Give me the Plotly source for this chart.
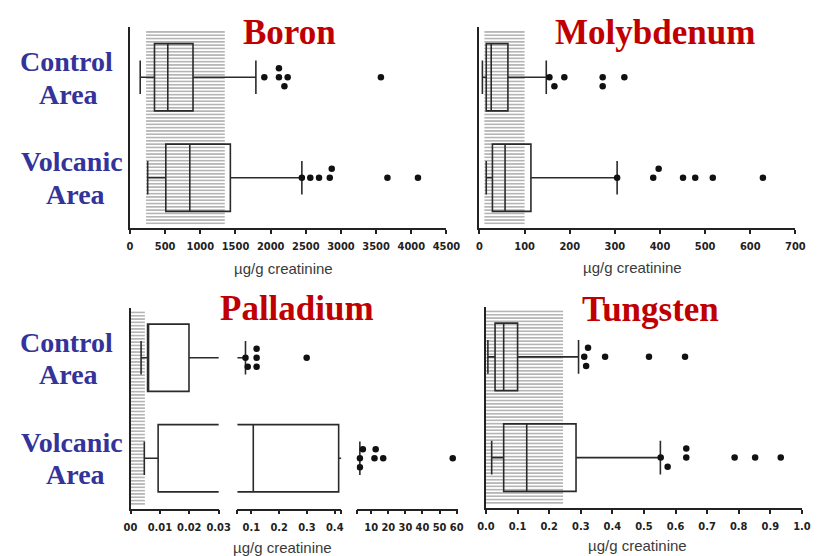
import plotly.graph_objects as go

# ---------------- data ----------------
groups = ["Control", "Volcanic"]

boron_ref = [228, 1348]
boron_ctrl_stats = [145, 348, 537, 896, 1790]      # lowerfence, q1, median, q3, upperfence
boron_volc_stats = [251, 509, 850, 1427, 2444]
boron_ctrl_out = [1910, 2118, 2118, 2196, 2242, 3568]
boron_ctrl_lane = [0, 0, 1, -1, 0, 0]
boron_volc_out = [2444, 2564, 2688, 2841, 2869, 3661, 4095]
boron_volc_lane = [0, 0, 0, 0, 1, 0, 0]

moly_ref = [10.8, 100]
moly_ctrl_stats = [6.5, 15, 26, 63, 148]
moly_volc_stats = [15, 28.7, 56.7, 114, 305]
moly_ctrl_out = [155, 166, 188, 273, 273, 321]
moly_ctrl_lane = [0, -1, 0, 0, -1, 0]
moly_volc_out = [305, 385, 397, 451, 478, 517, 628]
moly_volc_lane = [0, 0, 1, 0, 0, 0, 0]

pall_ref = [0, 0.0049]
pall_ctrl_stats = [0.0036, 0.0058, 0.0061, 0.0199, 0.079]
pall_volc_stats = [0.0047, 0.0094, 0.107, 0.414, 3.35]
pall_ctrl_out = [0.079, 0.087, 0.119, 0.119, 0.119, 0.299]
pall_ctrl_lane = [0, -1, 1, 0, -1, 0]
pall_volc_out = [3.35, 3.35, 5.1, 11.9, 12.6, 17.0, 57.7]
pall_volc_lane = [0, -1, 1, 0, 1, 0, 0]

tung_ref = [0, 0.244]
tung_ctrl_stats = [0.006, 0.0287, 0.056, 0.100, 0.293]
tung_volc_stats = [0.018, 0.056, 0.129, 0.285, 0.552]
tung_ctrl_out = [0.311, 0.317, 0.323, 0.377, 0.516, 0.630]
tung_ctrl_lane = [0, -1, 1, 0, 0, 0]
tung_volc_out = [0.553, 0.575, 0.634, 0.634, 0.787, 0.852, 0.933]
tung_volc_lane = [0, -1, 1, 0, 0, 0, 0]

boron_ticks = [0, 500, 1000, 1500, 2000, 2500, 3000, 3500, 4000, 4500]
moly_ticks = [0, 100, 200, 300, 400, 500, 600, 700]
tung_ticks = [0.0, 0.1, 0.2, 0.3, 0.4, 0.5, 0.6, 0.7, 0.8, 0.9, 1.0]
pall_seg1_ticks = [0, 0.01, 0.02, 0.03]
pall_seg1_text = ["00", "0.01", "0.02", "0.03"]
pall_seg2_ticks = [0.1, 0.2, 0.3, 0.4]
pall_seg3_ticks = [10, 20, 30, 40, 50, 60]

titles = ["Boron", "Molybdenum", "Palladium", "Tungsten"]
unit = "µg/g creatinine"

# ---------------- layout helpers ----------------
W, H = 823, 556
def px(x):
    return x / W
def py(y):
    return 1 - y / H

RED = "#C00000"
NAVY = "#33339A"
INK = "#222222"
LANE = 0.09
POS = {"Control": 1, "Volcanic": 0}
TICKFONT = dict(family="Liberation Sans Narrow, Arial Narrow, DejaVu Sans Condensed, Arial, sans-serif",
                size=11, color=INK, weight="bold")

fig = go.Figure()

def add_ref(lo_hi, xa, ya):
    fig.add_trace(go.Bar(
        y=[0.5], x=[lo_hi[1] - lo_hi[0]], base=[lo_hi[0]], width=[1.93], orientation="h",
        marker=dict(color="white", line=dict(width=0),
                    pattern=dict(shape="-", fgcolor="#5a5a5a", bgcolor="white", size=3.3, solidity=0.45)),
        xaxis=xa, yaxis=ya, showlegend=False, hoverinfo="skip"))

def add_box(stats, group, xa, ya):
    lf, q1, med, q3, uf = stats
    fig.add_trace(go.Box(
        y=[POS[group]], q1=[q1], median=[med], q3=[q3], lowerfence=[lf], upperfence=[uf],
        orientation="h", width=0.67, whiskerwidth=0.5, boxpoints=False,
        fillcolor="rgba(0,0,0,0)", line=dict(color="#2a2a2a", width=1.6),
        xaxis=xa, yaxis=ya, showlegend=False, hoverinfo="skip"))

def add_out(vals, lanes, group, xa, ya, rng=None):
    xs, ys = [], []
    for v, l in zip(vals, lanes):
        if rng is None or (rng[0] <= v <= rng[1]):
            xs.append(v)
            ys.append(POS[group] + l * LANE)
    if xs:
        fig.add_trace(go.Scatter(x=xs, y=ys, mode="markers",
                                 marker=dict(size=6.5, color="#111111"),
                                 xaxis=xa, yaxis=ya, showlegend=False, hoverinfo="skip"))

# Boron
add_ref(boron_ref, "x", "y")
add_box(boron_ctrl_stats, "Control", "x", "y")
add_box(boron_volc_stats, "Volcanic", "x", "y")
add_out(boron_ctrl_out, boron_ctrl_lane, "Control", "x", "y")
add_out(boron_volc_out, boron_volc_lane, "Volcanic", "x", "y")
# Molybdenum
add_ref(moly_ref, "x2", "y2")
add_box(moly_ctrl_stats, "Control", "x2", "y2")
add_box(moly_volc_stats, "Volcanic", "x2", "y2")
add_out(moly_ctrl_out, moly_ctrl_lane, "Control", "x2", "y2")
add_out(moly_volc_out, moly_volc_lane, "Volcanic", "x2", "y2")
# Palladium (broken axis, 3 segments)
seg_ranges = {"x3": [0, 0.03], "x4": [0.05, 0.423], "x5": [1.5, 61]}
add_ref(pall_ref, "x3", "y3")
for xa, rng in seg_ranges.items():
    for stats, grp in ((pall_ctrl_stats, "Control"), (pall_volc_stats, "Volcanic")):
        if stats[0] <= rng[1] and stats[4] >= rng[0]:
            add_box(stats, grp, xa, "y3")
    add_out(pall_ctrl_out, pall_ctrl_lane, "Control", xa, "y3", rng)
    add_out(pall_volc_out, pall_volc_lane, "Volcanic", xa, "y3", rng)
# Tungsten
add_ref(tung_ref, "x6", "y4")
add_box(tung_ctrl_stats, "Control", "x6", "y4")
add_box(tung_volc_stats, "Volcanic", "x6", "y4")
add_out(tung_ctrl_out, tung_ctrl_lane, "Control", "x6", "y4")
add_out(tung_volc_out, tung_volc_lane, "Volcanic", "x6", "y4")

def xaxis(domain, rng, anchor, tickvals, ticktext=None, fmt=None):
    d = dict(domain=[px(domain[0]), px(domain[1])], range=rng, anchor=anchor,
             showline=True, linecolor=INK, linewidth=1.6, ticks="outside", ticklen=4,
             tickwidth=1.5, tickcolor=INK, showgrid=False, zeroline=False,
             tickvals=tickvals, tickfont=TICKFONT, ticklabelstandoff=3, fixedrange=True)
    if ticktext is not None:
        d["ticktext"] = ticktext
    if fmt:
        d["tickformat"] = fmt
    return d

def yaxis(top, bottom, anchor):
    return dict(domain=[py(bottom), py(top)], range=[-0.5, 1.5], anchor=anchor,
                showline=True, linecolor=INK, linewidth=1.6, ticks="", showticklabels=False,
                showgrid=False, zeroline=False, fixedrange=True)

fig.update_layout(
    width=W, height=H, autosize=False,
    margin=dict(l=0, r=0, t=0, b=0, pad=0),
    paper_bgcolor="white", plot_bgcolor="rgba(0,0,0,0)",
    barmode="overlay", boxmode="overlay",
    xaxis=xaxis([124.5, 450], [0, 4500], "y", boron_ticks),
    yaxis=yaxis(27, 228, "x"),
    xaxis2=xaxis([484, 809], [0, 700], "y2", moly_ticks),
    yaxis2=yaxis(27, 228, "x2"),
    xaxis3=xaxis([125, 215.7], seg_ranges["x3"], "y3", pall_seg1_ticks, pall_seg1_text),
    xaxis4=xaxis([235, 341.7], seg_ranges["x4"], "y3",
                 [seg_ranges["x4"][0]] + pall_seg2_ticks + [seg_ranges["x4"][1]],
                 [""] + [str(t) for t in pall_seg2_ticks] + [""]),
    xaxis5=xaxis([357.7, 462.3], seg_ranges["x5"], "y3",
                 [seg_ranges["x5"][0]] + pall_seg3_ticks,
                 [""] + [str(t) for t in pall_seg3_ticks]),
    yaxis3=yaxis(307.5, 508.5, "x3"),
    xaxis6=xaxis([490.7, 815.7], [0, 1.0], "y4", tung_ticks, fmt=".1f"),
    yaxis4=yaxis(306.5, 508, "x6"),
)

ann = []
def text(x, y, s, size, color, family="Liberation Serif, Times New Roman, serif", weight="bold"):
    ann.append(dict(x=px(x), y=py(y), xref="paper", yref="paper", text=s, showarrow=False,
                    xanchor="center", yanchor="middle",
                    font=dict(family=family, size=size, color=color, weight=weight)))

# panel titles
for (x, y), t in zip([(289, 33), (665, 33), (296, 308), (660, 309)], titles):
    text(x, y, t, 35, RED)
# row labels
for top in (0, 280):
    text(59, top + 62, "Control", 28, NAVY)
    text(61, top + 94, "Area", 28, NAVY)
    text(65, top + 162, "Volcanic", 28, NAVY)
    text(68, top + 194, "Area", 28, NAVY)
# axis titles
for x, y in [(282, 268), (641, 267), (281, 547), (647, 545)]:
    text(x, y, unit, 15, "#3a3a3a", family="Liberation Sans, Arial, sans-serif", weight="normal")

fig.update_layout(annotations=ann)

post = ("var de=document.documentElement,b=document.body;"
        "de.style.margin='0';de.style.padding='0';de.style.overflow='hidden';"
        "b.style.margin='0';b.style.padding='0';b.style.overflow='hidden';"
        "var gd=document.getElementById('{plot_id}');"
        "gd.style.position='fixed';gd.style.left='0px';gd.style.top='0px';"
        "var w=window.innerWidth||823,h=window.innerHeight||556;"
        "gd.style.width=w+'px';gd.style.height=h+'px';"
        "Plotly.relayout(gd,{width:w,height:h});")
fig.write_html("out.html", post_script=post, config={"responsive": False, "displayModeBar": False})
